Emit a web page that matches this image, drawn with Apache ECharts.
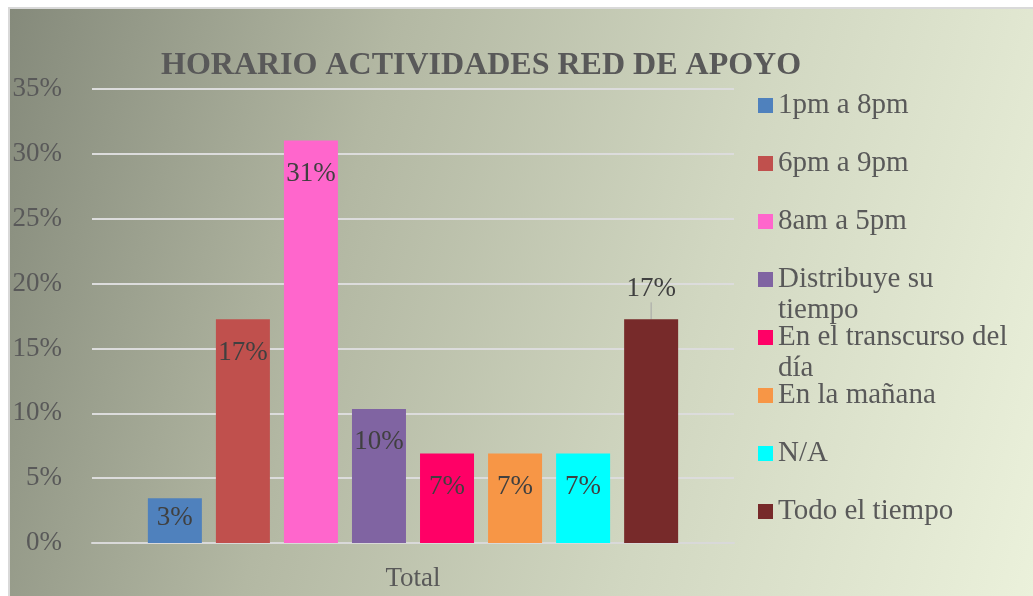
<!DOCTYPE html>
<html>
<head>
<meta charset="utf-8">
<script src="https://cdn.jsdelivr.net/npm/echarts@6/dist/echarts.min.js"></script>
<style>
    * { margin: 0; padding: 0; }
    body { width: 1033px; height: 596px; background: #ffffff; position: relative; overflow: hidden; }
    #bg {
        position: absolute; left: 8px; top: 7px; right: 0; bottom: 0;
        border-top: 2px solid #d9d9d9; border-left: 2px solid #d9d9d9;
        background: linear-gradient(105deg, #858a7b 0%, #b3b8a3 33%, #d1d7c1 65%, #ebf1db 100%);
    }
    #main { position: absolute; left: 0; top: 0; width: 1033px; height: 596px; }
</style>
</head>
<body>
<div id="bg"></div>
<div id="main"></div>
<script>
    var categories = ['Total'];
    var seriesNames = ['1pm a 8pm', '6pm a 9pm', '8am a 5pm', 'Distribuye su tiempo',
        'En el transcurso del día', 'En la mañana', 'N/A', 'Todo el tiempo'];
    var legendLabels = ['1pm a 8pm', '6pm a 9pm', '8am a 5pm', 'Distribuye su\ntiempo',
        'En el transcurso del\ndía', 'En la mañana', 'N/A', 'Todo el tiempo'];
    var seriesValues = [0.0345, 0.1724, 0.3103, 0.1034, 0.069, 0.069, 0.069, 0.1724];
    var colors = ['#4f81bd', '#c0504d', '#ff66cc', '#8064a2', '#ff0066', '#f79646', '#00ffff', '#772a2a'];
    var yTicks = [0, 0.05, 0.10, 0.15, 0.20, 0.25, 0.30, 0.35];

    var serif = '"Liberation Serif", "Times New Roman", serif';
    var myChart = echarts.init(document.getElementById('main'));

    // square marker in the top part of a 2-line tall legend item
    var legendIcon = 'path://M0,0 L0,0 M0,8 L15,8 L15,23 L0,23 Z M0,62 L0,62';

    var series = seriesNames.map(function (name, i) {
        var s = {
            name: name,
            type: 'bar',
            barWidth: 54,
            barGap: '26%',
            data: [seriesValues[i]],
            itemStyle: { color: colors[i] },
            label: {
                show: true,
                position: 'insideTop',
                distance: i === 0 ? 6 : 20,
                color: '#404040',
                fontFamily: serif,
                fontSize: 27,
                formatter: function (p) { return Math.round(p.value * 100) + '%'; }
            }
        };
        if (i === seriesNames.length - 1) {
            // last label sits above the bar with a small leader line
            s.label.position = 'top';
            s.label.distance = 2;
            s.labelLayout = { dy: -15 };
            s.labelLine = { show: true, lineStyle: { color: '#a6a6a6', width: 1 } };
        }
        return s;
    });

    var option = {
        color: colors,
        animation: false,
        title: {
            text: 'HORARIO ACTIVIDADES RED DE APOYO',
            left: 161,
            top: 50,
            padding: 0,
            textStyle: { fontFamily: serif, fontSize: 32, fontWeight: 'bold', color: '#595959' }
        },
        legend: {
            orient: 'vertical',
            left: 758,
            top: 90,
            padding: 0,
            itemWidth: 15,
            itemHeight: 62,
            itemGap: -4,
            icon: legendIcon,
            data: seriesNames,
            formatter: function (name) {
                var label = legendLabels[seriesNames.indexOf(name)];
                return label.indexOf('\n') >= 0 ? label : label + '\n ';
            },
            textStyle: {
                fontFamily: serif,
                fontSize: 29,
                lineHeight: 31,
                color: '#595959'
            }
        },
        grid: { left: 92, right: 299, top: 89, bottom: 53 },
        xAxis: {
            type: 'category',
            data: categories,
            axisLine: { lineStyle: { color: '#d9d9d9', width: 2 } },
            axisTick: { show: false },
            axisLabel: { fontFamily: serif, fontSize: 27, color: '#595959', margin: 22 }
        },
        yAxis: {
            type: 'value',
            min: 0,
            max: yTicks[yTicks.length - 1],
            interval: 0.05,
            axisLine: { show: false },
            axisTick: { show: false },
            splitLine: { lineStyle: { color: '#dcdcdc', width: 2 } },
            axisLabel: {
                fontFamily: serif, fontSize: 27, color: '#595959', margin: 30,
                formatter: function (v) { return Math.round(v * 100) + '%'; }
            }
        },
        series: series
    };

    myChart.setOption(option);
</script>
</body>
</html>
